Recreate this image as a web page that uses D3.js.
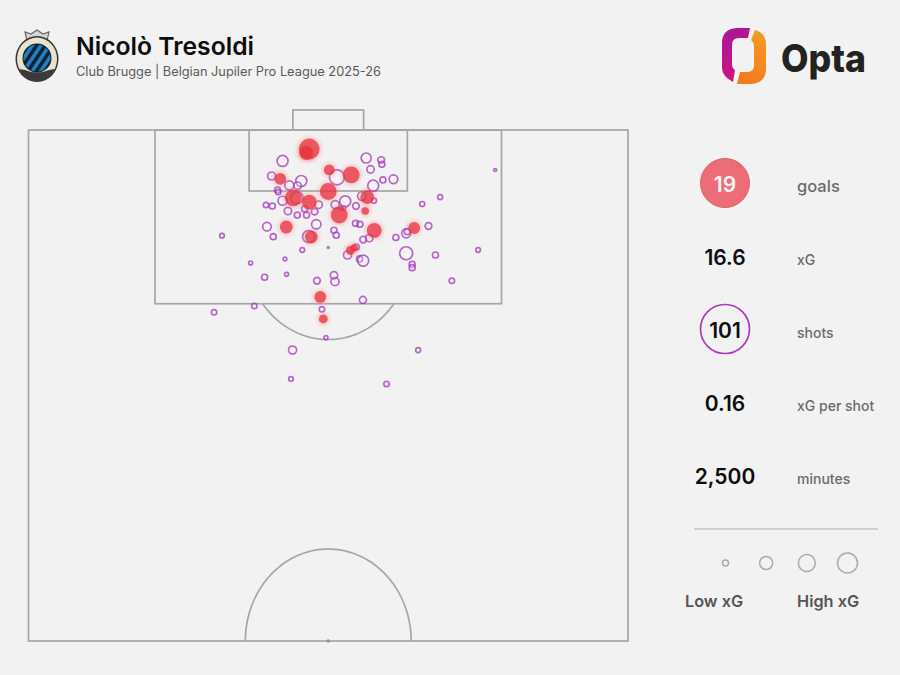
<!DOCTYPE html>
<html><head><meta charset="utf-8">
<script src="https://cdn.jsdelivr.net/npm/d3@7"></script>
<style>html,body{margin:0;padding:0;background:#f2f2f2}svg{display:block}text{font-family:Inter,Roboto,sans-serif}</style>
</head><body><svg id="c" width="900" height="675"></svg>
<script>
// Shot locations: x across the pitch (0-100), y out from the goal line (0-50), with xG
const goalX=[46.83,46.33,50.17,53.83,42,50,44.17,46.83,56.5,51.83,56.17,43,47.17,57.67,64.33,53.67,54.33,48.67,49.17];
const goalY=[1.86,2.25,3.91,4.4,4.79,6.02,6.65,7.05,6.56,8.32,7.93,9.49,10.47,9.83,9.59,11.79,11.55,16.34,18.49];
const goalXG=[.51,.22,.128,.327,.154,.327,.327,.25,.216,.327,.06,.184,.184,.25,.154,.082,.06,.154,.082];
const shotX=[42.38,56.33,58.83,58.95,57.05,51.45,40.55,45.5,43.5,44.88,41.55,41.67,59.12,60.88,57.5,55.62,57.62,42.38,44.78,39.62,40.67,43.28,44.83,46.38,46.05,47.72,48.38,51.17,52.83,54.62,52.17,52.58,39.78,40.83,48,46.72,50.95,51.33,54.55,55.28,45.67,42.78,55.83,56.83,61.28,63,63.17,53.22,54.67,55.22,55.83,63,64,64,37.05,32.28,66.72,67.88,75,70.62,39.38,43.05,48.12,50.95,51.12,55.78,37.67,30.95,48.95,49.62,44.05,65,43.78,59.72,77.83,68.67,65.67];
const shotY=[3.03,2.74,2.94,3.36,3.85,4.63,4.5,4.99,5.41,5.45,5.87,6.07,4.89,4.82,5.45,6.46,6.92,6.92,6.62,7.34,7.44,7.93,8.32,8.32,7.73,7.99,7.31,7.31,6.98,7.44,7.63,7.63,9.46,10.44,9.23,10.44,9.81,10.3,9.13,9.23,11.74,12.62,10.72,10.57,10.52,10.11,9.95,12.23,11.45,12.62,12.79,12.06,13.14,13.47,13.01,10.34,9.39,12.23,11.74,14.75,14.41,14.12,14.75,14.22,14.84,16.63,17.22,17.84,17.54,20.32,21.53,21.53,24.36,24.85,3.91,6.56,7.24];
const shotXG=[.154,.128,.056,.046,.07,.287,.082,.154,.103,.07,.046,.037,.046,.094,.154,.094,.032,.103,.184,.037,.046,.07,.046,.046,.046,.056,.07,.082,.154,.056,.02,.02,.094,.046,.113,.184,.046,.046,.046,.046,.027,.017,.056,.07,.046,.103,.046,.082,.046,.046,.154,.216,.046,.046,.02,.027,.056,.046,.027,.037,.046,.02,.056,.07,.082,.062,.037,.037,.037,.02,.082,.032,.027,.037,.011,.032,.032];
const statValues=["19","16.6","101","0.16","2,500"];
const statLabels=["goals","xG","shots","xG per shot","minutes"];
const legendXG=[.046,.216,.37,.51];
const legendLabels=["Low xG","High xG"];

const svg=d3.select("#c");
svg.append("rect").attr("width",900).attr("height",675).attr("fill","#f2f2f2");
const defs=svg.append("defs");
defs.append("filter").attr("id","halo").attr("x","-100%").attr("y","-100%").attr("width","300%").attr("height","300%")
  .append("feGaussianBlur").attr("stdDeviation",1.8);
defs.append("filter").attr("id","soft").attr("x","-10%").attr("y","-10%").attr("width","120%").attr("height","120%")
  .append("feGaussianBlur").attr("stdDeviation",.4);
const g1=defs.append("linearGradient").attr("id","op1").attr("x1",0).attr("y1",0).attr("x2",.4).attr("y2",1);
g1.append("stop").attr("offset",0).attr("stop-color","#a3189a");g1.append("stop").attr("offset",1).attr("stop-color","#d0147a");
const g2=defs.append("linearGradient").attr("id","op2").attr("x1",.6).attr("y1",0).attr("x2",.3).attr("y2",1);
g2.append("stop").attr("offset",0).attr("stop-color","#f39a1e");g2.append("stop").attr("offset",1).attr("stop-color","#f57a1f");

// scales
const x=d3.scaleLinear().domain([0,100]).range([28.5,628]);
const y=d3.scaleLinear().domain([0,50]).range([130,641]);
const r=d3.scaleSqrt().domain([0,1]).range([0,14]);

// pitch
const pitch=svg.append("g").attr("fill","none").attr("stroke","#a6a6a6").attr("stroke-width",1.7);
const box=(x0,x1,y0,y1)=>pitch.append("rect").attr("x",x(x0)).attr("y",y(y0)).attr("width",x(x1)-x(x0)).attr("height",y(y1)-y(y0));
box(0,100,0,50);
box(21.1,78.9,0,17);
box(36.8,63.2,0,5.97);
box(44.1,55.9,-1.96,0);
const arc=(cy,a0,a1)=>d3.line().x(t=>x(50+13.83*Math.cos(t))).y(t=>y(cy+9*Math.sin(t)))(d3.range(a0,a1+.001,(a1-a0)/80));
const dA=Math.asin((17-11.5)/9);
pitch.append("path").attr("d",arc(11.5,dA,Math.PI-dA));
pitch.append("path").attr("d",arc(50,Math.PI,2*Math.PI));
svg.append("g").attr("fill","#8f9a8f").selectAll("circle").data([[50,11.5],[50,50]]).join("circle")
  .attr("cx",d=>x(d[0])).attr("cy",d=>y(d[1])).attr("r",1.8);

// shots
const marks=svg.append("g").attr("filter","url(#soft)");
marks.append("g").selectAll("circle").data(d3.range(shotX.length)).join("circle")
  .attr("cx",i=>x(shotX[i])).attr("cy",i=>y(shotY[i])).attr("r",i=>r(shotXG[i]))
  .attr("fill","#ffffff").attr("fill-opacity",.25).attr("stroke","#a02fbb").attr("stroke-opacity",.72).attr("stroke-width",1.7);
marks.append("g").selectAll("circle").data(d3.range(goalX.length)).join("circle")
  .attr("cx",i=>x(goalX[i])).attr("cy",i=>y(goalY[i])).attr("r",i=>r(goalXG[i])+3)
  .attr("fill","#f8807f").attr("fill-opacity",.28).attr("filter","url(#halo)");
marks.append("g").selectAll("circle").data(d3.range(goalX.length)).join("circle")
  .attr("cx",i=>x(goalX[i])).attr("cy",i=>y(goalY[i])).attr("r",i=>r(goalXG[i])+.4)
  .attr("fill","#e8323e").attr("fill-opacity",.76);

// header
svg.append("text").attr("x",76).attr("y",55).attr("font-size",24.7).attr("font-weight",600).attr("fill","#0d0d0d").text("Nicolò Tresoldi");
svg.append("text").attr("x",76).attr("y",76).attr("font-size",12.8).attr("fill","#5a5a5a").text("Club Brugge | Belgian Jupiler Pro League 2025-26");

// crest
const crest=svg.append("g").attr("transform","translate(37,58)");
crest.append("path").attr("d","M-10,-17 L-12,-26 L-6,-24 L0,-28 L6,-24 L12,-26 L10,-17 Z").attr("fill","#d8d6d0").attr("stroke","#666").attr("stroke-width",1.2);
crest.append("ellipse").attr("rx",21.5).attr("ry",23).attr("cy",1).attr("fill","#333");
crest.append("ellipse").attr("rx",20).attr("ry",21.5).attr("cy",1).attr("fill","#e8e4cc");
crest.append("path").attr("d","M-18,11 A20,21.5 0 0 0 18,11 L12,12 Q0,17 -12,12 Z").attr("fill","#3a3a3a");
crest.append("circle").attr("r",14.5).attr("cy",0).attr("fill","#13202f");
const cl=defs.append("clipPath").attr("id","cc");cl.append("circle").attr("r",13.5).attr("cy",0);
crest.append("g").attr("clip-path","url(#cc)").selectAll("line").data([-13,-4.5,4,12.5]).join("line")
  .attr("x1",d=>d-10).attr("y1",15).attr("x2",d=>d+10).attr("y2",-15)
  .attr("stroke","#1f7fc4").attr("stroke-width",3.6);

// Opta logo
const logo=svg.append("g");
logo.append("path").attr("fill","url(#op1)").attr("d","M750,28 L737,28 Q722,29 722,43 L722,68 Q722,76 733,82 L735,70 Q732,68 732,64 L732,45 Q732,38 739,38 L748,38 Z");
logo.append("path").attr("fill","url(#op2)").attr("d","M755,30 Q766,33 766,45 L766,68 Q766,84 750,84 L737,84 L740,72 L748,72 Q754,72 754,65 L754,47 Q754,42 751,40 Z");
svg.append("text").attr("x",781).attr("y",72).attr("font-size",38).attr("font-weight",800).attr("fill","#222")
  .attr("textLength",85).attr("lengthAdjust","spacingAndGlyphs").text("Opta");

// stats
const statY=[192,265,338,411,484];
svg.append("circle").attr("cx",725).attr("cy",183).attr("r",24.5).attr("fill","#ec6c78").attr("stroke","#e2606c").attr("stroke-width",1);
svg.append("circle").attr("cx",725).attr("cy",329).attr("r",24.5).attr("fill","none").attr("stroke","#a83dbb").attr("stroke-width",1.7);
svg.append("g").selectAll("text").data(statValues).join("text")
  .attr("x",725).attr("y",(d,i)=>statY[i]).attr("text-anchor","middle").attr("font-size",21).attr("font-weight",600)
  .attr("fill",(d,i)=>i===0?"#f6f6f6":"#0d0d0d").text(d=>d);
svg.append("g").selectAll("text").data(statLabels).join("text")
  .attr("x",797).attr("y",d=>statY[statLabels.indexOf(d)]).attr("font-size",(d,i)=>i===0?16.5:14).attr("font-weight",500)
  .attr("fill","#6a6a6a").text(d=>d);

// legend
svg.append("line").attr("x1",694).attr("x2",878).attr("y1",529).attr("y2",529).attr("stroke","#c6c6c6").attr("stroke-width",1.3);
const legendPos=d3.scalePoint().domain(d3.range(legendXG.length)).range([725.5,847.5]);
svg.append("g").selectAll("circle").data(legendXG).join("circle")
  .attr("cx",(d,i)=>legendPos(i)).attr("cy",563).attr("r",d=>r(d)).attr("fill","none").attr("stroke","#aaaaaa").attr("stroke-width",1.5);
svg.append("g").selectAll("text").data(legendLabels).join("text")
  .attr("x",(d,i)=>[685,797][i]).attr("y",607).attr("font-size",16.3).attr("font-weight",600).attr("fill","#555").text(d=>d);
</script></body></html>
